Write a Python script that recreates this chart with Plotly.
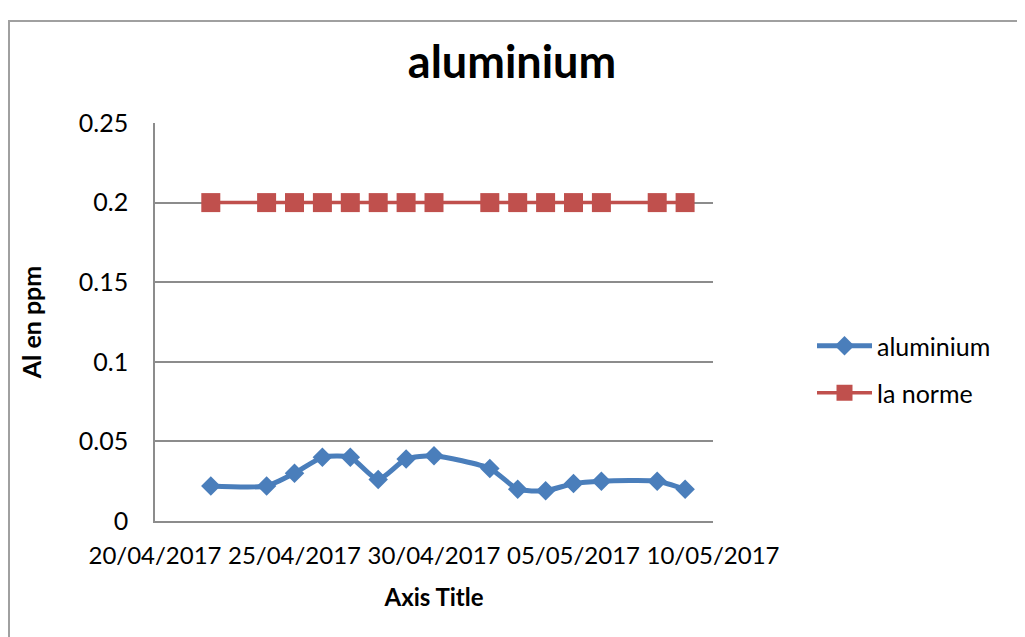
import plotly.graph_objects as go

dates = ["2017-04-22", "2017-04-24", "2017-04-25", "2017-04-26", "2017-04-27",
         "2017-04-28", "2017-04-29", "2017-04-30", "2017-05-02", "2017-05-03",
         "2017-05-04", "2017-05-05", "2017-05-06", "2017-05-08", "2017-05-09"]
aluminium = [0.022, 0.022, 0.030, 0.040, 0.040, 0.026, 0.039, 0.041, 0.033,
             0.020, 0.019, 0.0235, 0.025, 0.025, 0.020]
norme = [0.2] * len(dates)

y_ticks = [0, 0.05, 0.1, 0.15, 0.2, 0.25]
y_ticktext = ["0", "0.05", "0.1", "0.15", "0.2", "0.25"]
x_ticks = ["2017-04-20", "2017-04-25", "2017-04-30", "2017-05-05", "2017-05-10"]
x_ticktext = ["20/04/2017", "25/04/2017", "30/04/2017", "05/05/2017", "10/05/2017"]

FONT = "Lato, 'Open Sans', sans-serif"
BLUE = "#4A7EBB"
RED = "#C0504D"
GRID = "#8C8C8C"

# page body has an 8px margin: work in screen coords, shift by OFF
OFF = 8
W, H = 1025 - OFF, 637 - OFF
L, R, T, B = 155 - OFF, 713 - OFF, 123 - OFF, 521 - OFF
pw, ph = R - L, B - T

def px(x):
    return (x - OFF - L) / pw

def py(y):
    return (B - (y - OFF)) / ph

fig = go.Figure()
fig.add_trace(go.Scatter(
    x=dates, y=aluminium, name="aluminium", mode="lines+markers",
    line=dict(color=BLUE, width=5, shape="spline", smoothing=0.6),
    marker=dict(symbol="diamond", size=15, color=BLUE),
    legend="legend",
))
fig.add_trace(go.Scatter(
    x=dates, y=norme, name="la norme", mode="lines+markers",
    line=dict(color=RED, width=3.5),
    marker=dict(symbol="square", size=19, color=RED),
    legend="legend2",
))

fig.update_layout(
    width=W, height=H,
    margin=dict(l=L, r=W - R, t=T, b=H - B, pad=0, autoexpand=False),
    paper_bgcolor="white", plot_bgcolor="white",
    font=dict(family=FONT, size=25, color="black"),
    title=dict(text="<b>aluminium</b>", x=(512 - OFF) / W, xref="container", xanchor="center",
               y=1 - (62 - OFF) / H, yref="container", yanchor="middle",
               font=dict(family=FONT, size=45, color="black")),
    xaxis=dict(
        type="date", range=["2017-04-20", "2017-05-10"],
        tickvals=x_ticks, ticktext=x_ticktext, tickangle=0, automargin=False,
        showgrid=False, zeroline=False, showline=True, linecolor=GRID, linewidth=1.5,
        ticks="", ticklabelstandoff=12,
        tickfont=dict(family=FONT, size=24),
        title=dict(text="<b>Axis Title</b>", font=dict(family=FONT, size=24), standoff=22),
    ),
    yaxis=dict(
        range=[0, 0.25], tickvals=y_ticks, ticktext=y_ticktext, automargin=False,
        showgrid=True, gridcolor=GRID, gridwidth=1.5,
        zeroline=False, showline=True, linecolor=GRID, linewidth=1.5,
        ticks="", ticklabelstandoff=20,
        tickfont=dict(family=FONT, size=25),
        title=dict(text="<b>Al en ppm</b>", font=dict(family=FONT, size=25), standoff=30),
    ),
    legend=dict(x=px(812), y=py(346), xanchor="left", yanchor="middle", itemwidth=55,
                font=dict(family=FONT, size=25), bgcolor="rgba(0,0,0,0)"),
    legend2=dict(x=px(812), y=py(393), xanchor="left", yanchor="middle", itemwidth=55,
                 font=dict(family=FONT, size=25), bgcolor="rgba(0,0,0,0)"),
    showlegend=True,
    shapes=[
        dict(type="rect", xref="paper", yref="paper",
             x0=px(9), x1=px(1018), y0=py(660), y1=py(21),
             line=dict(color="#A0A0A0", width=2), fillcolor="rgba(0,0,0,0)", layer="below"),
        dict(type="rect", xref="paper", yref="paper",
             x0=px(1021), x1=px(1030), y0=py(660), y1=py(-10),
             line=dict(width=0), fillcolor="black", layer="above"),
    ],
)

fig.write_html("out.html")
